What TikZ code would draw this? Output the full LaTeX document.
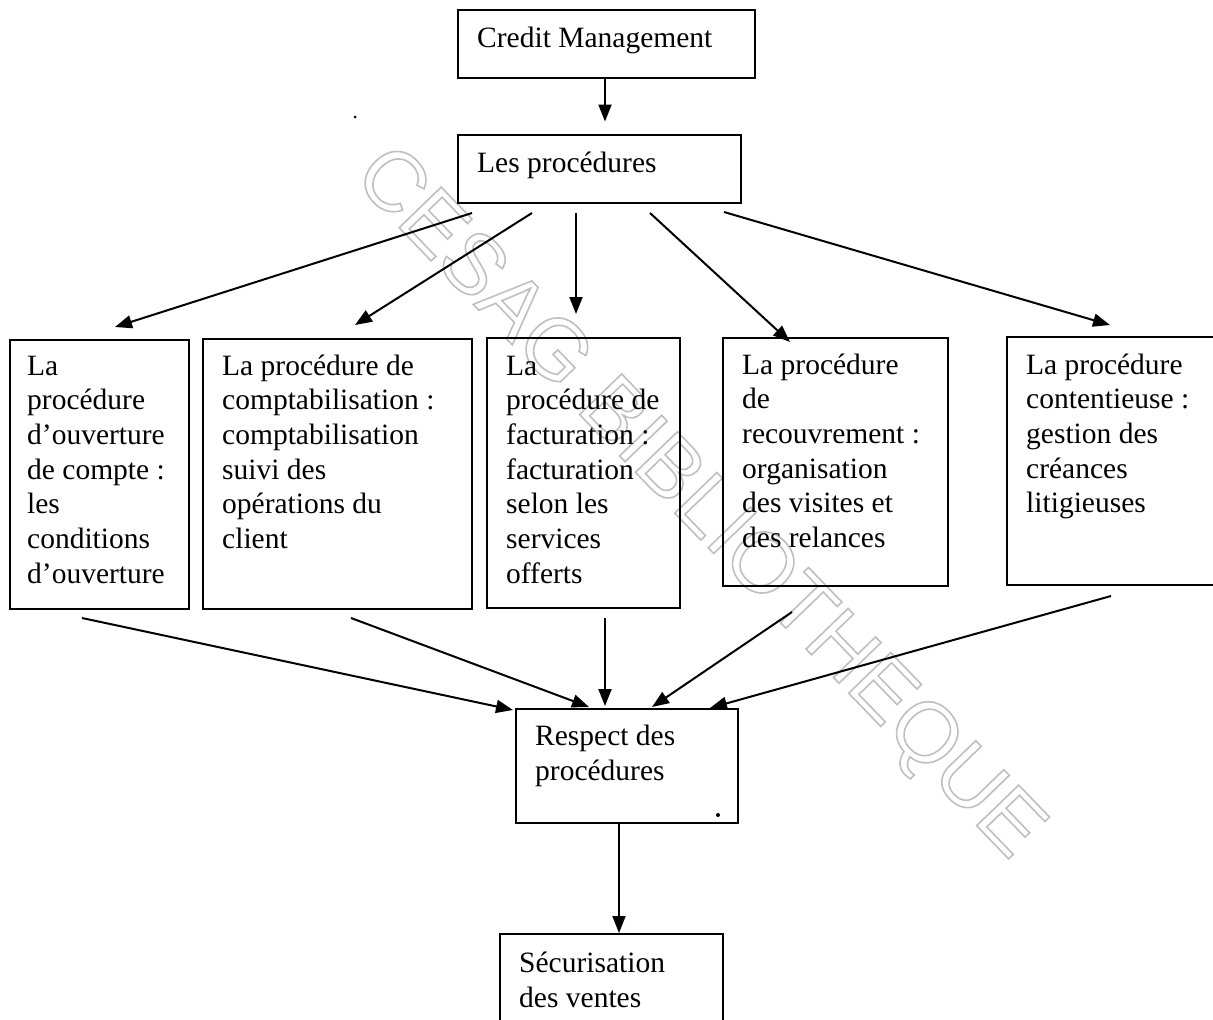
\documentclass[tikz,border=0pt]{standalone}
\usepackage{fontspec}
\setmainfont{Liberation Serif}
\newfontfamily\wmfont{Liberation Sans}
\usetikzlibrary{arrows.meta}
\newcommand\boxfs{\fontsize{29.5}{34.7}\selectfont}
\tikzset{
  box/.style={draw, line width=1.8pt, inner sep=0pt, anchor=north west},
  txt/.style={anchor=north west, inner sep=0pt, align=left, font=\boxfs},
  arr/.style={line width=2pt, -{Triangle[length=17pt,width=13pt]}},
  wm/.style={rotate=-46, text=gray!50, font=\wmfont\fontsize{85}{90}\selectfont, inner sep=0pt}
}
\begin{document}
\begin{tikzpicture}[x=1pt,y=-1pt]
\useasboundingbox (0,0) rectangle (1213,1020);
\clip (0,0) rectangle (1213,1020);
% watermark
\node[wm] (wmark) at (697,505) {\special{pdf:literal direct 1 Tr 1.6 w}CESAG BIBLIOTHEQUE\special{pdf:literal direct 0 Tr}};
% boxes
\node[box, minimum width=297pt, minimum height=68pt] (cm) at (457,9) {};
\node[txt] (cmt) at (477,23.5) {\strut Credit Management};
\node[box, minimum width=283pt, minimum height=68pt] (lp) at (457,134) {};
\node[txt] (lpt) at (477,147.7) {\strut Les procédures};
\node[box, minimum width=179pt, minimum height=269pt] (b1) at (9,339) {};
\node[txt] (t1) at (27,350.7) {\strut La\\procédure\\d’ouverture\\de compte :\\les\\conditions\\d’ouverture};
\node[box, minimum width=269pt, minimum height=270pt] (b2) at (202,338) {};
\node[txt] (t2) at (222,350.7) {\strut La procédure de\\comptabilisation :\\comptabilisation\\suivi des\\opérations du\\client};
\node[box, minimum width=193pt, minimum height=270pt] (b3) at (486,337) {};
\node[txt] (t3) at (506,350.7) {\strut La\\procédure de\\facturation :\\facturation\\selon les\\services\\offerts};
\node[box, minimum width=225pt, minimum height=248pt] (b4) at (722,337) {};
\node[txt] (t4) at (742,349.7) {\strut La procédure\\de\\recouvrement :\\organisation\\des visites et\\des relances};
\node[box, minimum width=220pt, minimum height=248pt] (b5) at (1006,336) {};
\node[txt] (t5) at (1026,349.7) {\strut La procédure\\contentieuse :\\gestion des\\créances\\litigieuses};
\node[box, minimum width=222pt, minimum height=114pt] (rp) at (515,708) {};
\node[txt] (rpt) at (535,721.2) {\strut Respect des\\procédures};
\node[box, minimum width=223pt, minimum height=100pt] (sv) at (499,933) {};
\node[txt] (svt) at (519,948.2) {\strut Sécurisation\\des ventes};
% connector end points
\coordinate (a0s) at (605,77.7);
\coordinate (a0e) at (605,121.5);
\coordinate (a1s) at (472,213);
\coordinate (a1e) at (115,327);
\coordinate (a2s) at (532,213);
\coordinate (a2e) at (355,325);
\coordinate (a3s) at (576,213);
\coordinate (a3e) at (576,314);
\coordinate (a4s) at (650,213);
\coordinate (a4e) at (790,342);
\coordinate (a5s) at (724,212);
\coordinate (a5e) at (1110,325);
\coordinate (c1s) at (82,618);
\coordinate (c1e) at (513,710);
\coordinate (c2s) at (351,618);
\coordinate (c2e) at (589,707);
\coordinate (c3s) at (605,618);
\coordinate (c3e) at (605,706);
\coordinate (c4s) at (792,612);
\coordinate (c4e) at (652,707);
\coordinate (c5s) at (1111,596);
\coordinate (c5e) at (710,708);
\coordinate (d0s) at (619,822);
\coordinate (d0e) at (619,933);
% connectors
\draw[arr] (a0s) -- (a0e);
\draw[arr] (a1s) -- (a1e);
\draw[arr] (a2s) -- (a2e);
\draw[arr] (a3s) -- (a3e);
\draw[arr] (a4s) -- (a4e);
\draw[arr] (a5s) -- (a5e);
\draw[arr] (c1s) -- (c1e);
\draw[arr] (c2s) -- (c2e);
\draw[arr] (c3s) -- (c3e);
\draw[arr] (c4s) -- (c4e);
\draw[arr] (c5s) -- (c5e);
\draw[arr] (d0s) -- (d0e);
% stray marks
\fill (355,117) circle (1.5pt);
\fill (718,815) circle (2pt);
\end{tikzpicture}
\end{document}
